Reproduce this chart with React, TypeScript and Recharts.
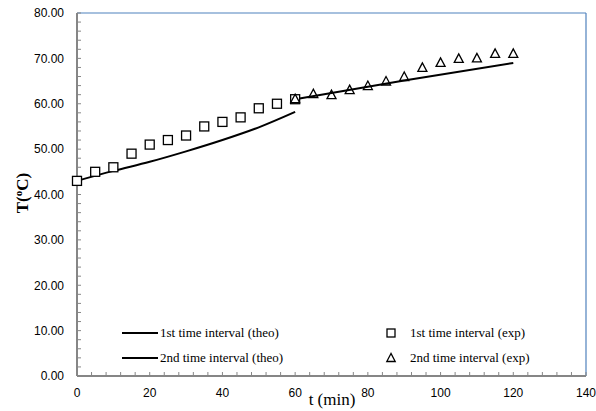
import { ComposedChart, Line, Scatter, XAxis, YAxis, ReferenceLine } from "recharts";

// experimental points, 1st interval (squares)
const exp1Time = [0, 5, 10, 15, 20, 25, 30, 35, 40, 45, 50, 55, 60];
const exp1Temp = [43, 45, 46, 49, 51, 52, 53, 55, 56, 57, 59, 60, 61];

// experimental points, 2nd interval (triangles)
const exp2Time = [60, 65, 70, 75, 80, 85, 90, 95, 100, 105, 110, 115, 120];
const exp2Temp = [61, 62.1, 61.9, 63, 63.9, 64.9, 65.9, 67.9, 69, 69.9, 70, 71, 71];

// theoretical curves
const theo1Time = [0, 10, 20, 30, 40, 50, 60];
const theo1Temp = [43, 45.2, 47.2, 49.5, 52, 54.8, 58.2];
const theo2Time = [60, 90, 120];
const theo2Temp = [61, 65.1, 69];

const xTicks = [0, 4, 8, 12, 16, 20, 24, 28, 32, 36, 40, 44, 48, 52, 56, 60, 64, 68, 72, 76, 80, 84, 88, 92, 96, 100, 104, 108, 112, 116, 120, 124, 128, 132, 136, 140];
const xLabels = [0, 20, 40, 60, 80, 100, 120, 140];
const yTicks = [0, 2, 4, 6, 8, 10, 12, 14, 16, 18, 20, 22, 24, 26, 28, 30, 32, 34, 36, 38, 40, 42, 44, 46, 48, 50, 52, 54, 56, 58, 60, 62, 64, 66, 68, 70, 72, 74, 76, 78, 80];
const yLabels = [0, 10, 20, 30, 40, 50, 60, 70, 80];

const legendLeft = ["1st time interval (theo)", "2nd time interval (theo)"];
const legendRight = ["1st time interval (exp)", "2nd time interval (exp)"];

const toPoints = (ts: number[], vs: number[]) => ts.map((t, i) => ({ t, T: vs[i] }));

const exp1 = toPoints(exp1Time, exp1Temp);
const exp2 = toPoints(exp2Time, exp2Temp);
const theo1 = toPoints(theo1Time, theo1Temp);
const theo2 = toPoints(theo2Time, theo2Temp);

const AXIS = "#868686";
const BORDER = "#4f81bd";
const tickFont = "'Liberation Sans', Arial, sans-serif";
const serif = "'Liberation Serif', 'Times New Roman', serif";

const Square = (p: any) => (
  <rect x={p.cx - 4.5} y={p.cy - 4.5} width={9} height={9} fill="#fff" stroke="#000" strokeWidth={1.3} />
);

const Triangle = (p: any) => (
  <polygon
    points={`${p.cx},${p.cy - 5} ${p.cx - 4.5},${p.cy + 3.5} ${p.cx + 4.5},${p.cy + 3.5}`}
    fill="none"
    stroke="#000"
    strokeWidth={1.3}
  />
);

const XTick = (p: any) =>
  xLabels.includes(p.payload.value) ? (
    <text x={p.x} y={p.y} dy="0.71em" textAnchor="middle" fontSize={12} fontFamily={tickFont} fill="#000">
      {p.payload.value}
    </text>
  ) : (
    <g />
  );

const YTick = (p: any) =>
  yLabels.includes(p.payload.value) ? (
    <text x={p.x} y={p.y} dy="0.355em" textAnchor="end" fontSize={12} fontFamily={tickFont} fill="#000">
      {p.payload.value.toFixed(2)}
    </text>
  ) : (
    <g />
  );

const LegendBox = () => (
  <div
    style={{
      position: "absolute",
      left: 122,
      top: 324,
      width: 430,
      height: 50,
      fontFamily: serif,
      fontSize: 13,
      color: "#000",
      pointerEvents: "none",
    }}
  >
    {legendLeft.map((label, i) => (
      <div key={label} style={{ position: "absolute", left: 0, top: i * 25, height: 18, display: "flex", alignItems: "center", whiteSpace: "nowrap" }}>
        <span style={{ display: "inline-block", width: 36, height: 2, background: "#000", marginRight: 2 }} />
        <span>{label}</span>
      </div>
    ))}
    {legendRight.map((label, i) => (
      <div key={label} style={{ position: "absolute", left: 263, top: i * 25, height: 18, display: "flex", alignItems: "center", whiteSpace: "nowrap" }}>
        <svg width={12} height={12} style={{ marginRight: 13 }}>
          {i === 0 ? (
            <rect x={2} y={2} width={8} height={8} fill="none" stroke="#000" strokeWidth={1.3} />
          ) : (
            <polygon points="6,1.5 1.8,9.5 10.2,9.5" fill="none" stroke="#000" strokeWidth={1.3} />
          )}
        </svg>
        <span>{label}</span>
      </div>
    ))}
  </div>
);

export default function App() {
  return (
    <div style={{ position: "absolute", left: 0, top: 0, width: 596, height: 411, background: "#fff" }}>
      <ComposedChart width={596} height={411} margin={{ top: 13, right: 10, left: 0, bottom: 0 }}>
        <XAxis
          type="number"
          dataKey="t"
          domain={[0, 140]}
          ticks={xTicks}
          interval={0}
          height={35}
          tickSize={-4}
          tickMargin={16}
          tick={XTick}
          tickLine={{ stroke: AXIS, strokeWidth: 1 }}
          axisLine={{ stroke: AXIS, strokeWidth: 2 }}
          label={{
            content: () => (
              <text x={332} y={405} textAnchor="middle" fontSize={17} fontFamily={serif} fill="#000">
                t (min)
              </text>
            ),
          }}
        />
        <YAxis
          type="number"
          dataKey="T"
          domain={[0, 80]}
          ticks={yTicks}
          interval={0}
          width={77}
          tickSize={-4}
          tickMargin={17}
          tick={YTick}
          tickLine={{ stroke: AXIS, strokeWidth: 1 }}
          axisLine={{ stroke: AXIS, strokeWidth: 2 }}
          label={{
            content: () => (
              <text
                x={28}
                y={193}
                transform="rotate(-90 28 193)"
                textAnchor="middle"
                fontSize={17}
                fontWeight="bold"
                fontFamily={serif}
                fill="#000"
              >
                T(
                <tspan fontSize={11} dy={-6}>
                  o
                </tspan>
                <tspan dy={6}>C)</tspan>
              </text>
            ),
          }}
        />
        <ReferenceLine y={80} stroke={BORDER} strokeWidth={1.2} ifOverflow="visible" />
        <ReferenceLine x={140} stroke={BORDER} strokeWidth={1.2} ifOverflow="visible" />
        <Line data={theo1} dataKey="T" type="monotone" stroke="#000" strokeWidth={2} dot={false} isAnimationActive={false} />
        <Line data={theo2} dataKey="T" type="monotone" stroke="#000" strokeWidth={2} dot={false} isAnimationActive={false} />
        <Scatter data={exp1} dataKey="T" shape={Square} isAnimationActive={false} />
        <Scatter data={exp2} dataKey="T" shape={Triangle} isAnimationActive={false} />
      </ComposedChart>
      <LegendBox />
    </div>
  );
}
